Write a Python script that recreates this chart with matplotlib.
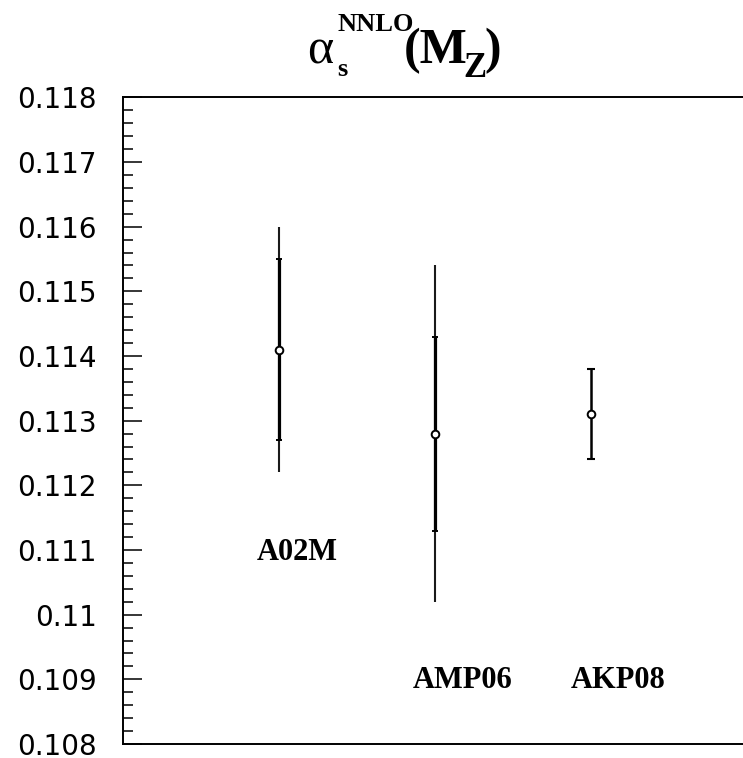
import matplotlib
matplotlib.use("Agg")
import matplotlib.pyplot as plt
from matplotlib.ticker import MultipleLocator, FixedLocator

# alpha_s(M_Z) at NNLO from three fits
fits = ["A02M", "AMP06", "AKP08"]
xpos = [1, 2, 3]
alpha_s = [0.1141, 0.1128, 0.1131]
err_exp = [0.0014, 0.0015, 0.0007]     # inner (experimental) error
err_tot = [0.0019, 0.0026, None]       # outer (total) error, where quoted

# label anchors (left edge, baseline) in data units
label_x = [0.86, 1.86, 2.87]
label_y = [0.11085, 0.10886, 0.10886]

W, H = 743, 758
fig = plt.figure(figsize=(W / 100, H / 100), dpi=100)
ax = fig.add_axes([123 / W, 14 / H, (747 - 123) / W, (744 - 97.3) / H])

for x, y, e_in, e_out in zip(xpos, alpha_s, err_exp, err_tot):
    if e_out is not None:
        ax.errorbar(x, y, yerr=e_out, fmt="none", ecolor="#1a1a1a",
                    elinewidth=1.5, capsize=0, zorder=2)
        ax.errorbar(x, y, yerr=e_in, fmt="none", ecolor="black",
                    elinewidth=2.3, capsize=2.5, capthick=1.4, zorder=3)
    else:
        ax.errorbar(x, y, yerr=e_in, fmt="none", ecolor="black",
                    elinewidth=1.8, capsize=3, capthick=1.5, zorder=3)
    ax.plot(x, y, "o", ms=5.5, mfc="white", mec="black", mew=1.4, zorder=4)

for name, lx, ly in zip(fits, label_x, label_y):
    ax.text(lx, ly, name, ha="left", va="baseline", fontsize=22,
            fontweight="bold", family="Liberation Serif")

ax.set_xlim(0, 4)
ax.set_ylim(0.108, 0.118)
ax.set_xticks([])
ax.yaxis.set_major_locator(FixedLocator([0.108 + 0.001 * i for i in range(11)]))
ax.yaxis.set_minor_locator(MultipleLocator(0.0002))
ax.set_yticklabels(["0.108", "0.109", "0.11", "0.111", "0.112", "0.113",
                    "0.114", "0.115", "0.116", "0.117", "0.118"],
                   fontsize=20, family="DejaVu Sans")
ax.tick_params(axis="y", which="major", direction="in", length=13.5,
               width=1.1, pad=19)
ax.tick_params(axis="y", which="minor", direction="in", length=7, width=1.1)
for side in ["top", "left", "bottom", "right"]:
    ax.spines[side].set_linewidth(1.4)

# title  alpha_s^NNLO(M_Z), placed piece by piece in pixel positions
def put(px, py, s, size, **kw):
    fig.text(px / W, 1 - py / H, s, fontsize=size, va="baseline", ha="left",
             family="Liberation Serif", **kw)

put(307, 63, "α", 36)
put(337, 76, "s", 19, fontweight="bold")
put(337, 31, "NNLO", 19, fontweight="bold")
put(404, 63, "(M", 36, fontweight="bold")
put(463, 77, "Z", 25, fontweight="bold")
put(484, 63, ")", 36, fontweight="bold")

fig.savefig("out.png", dpi=100)
